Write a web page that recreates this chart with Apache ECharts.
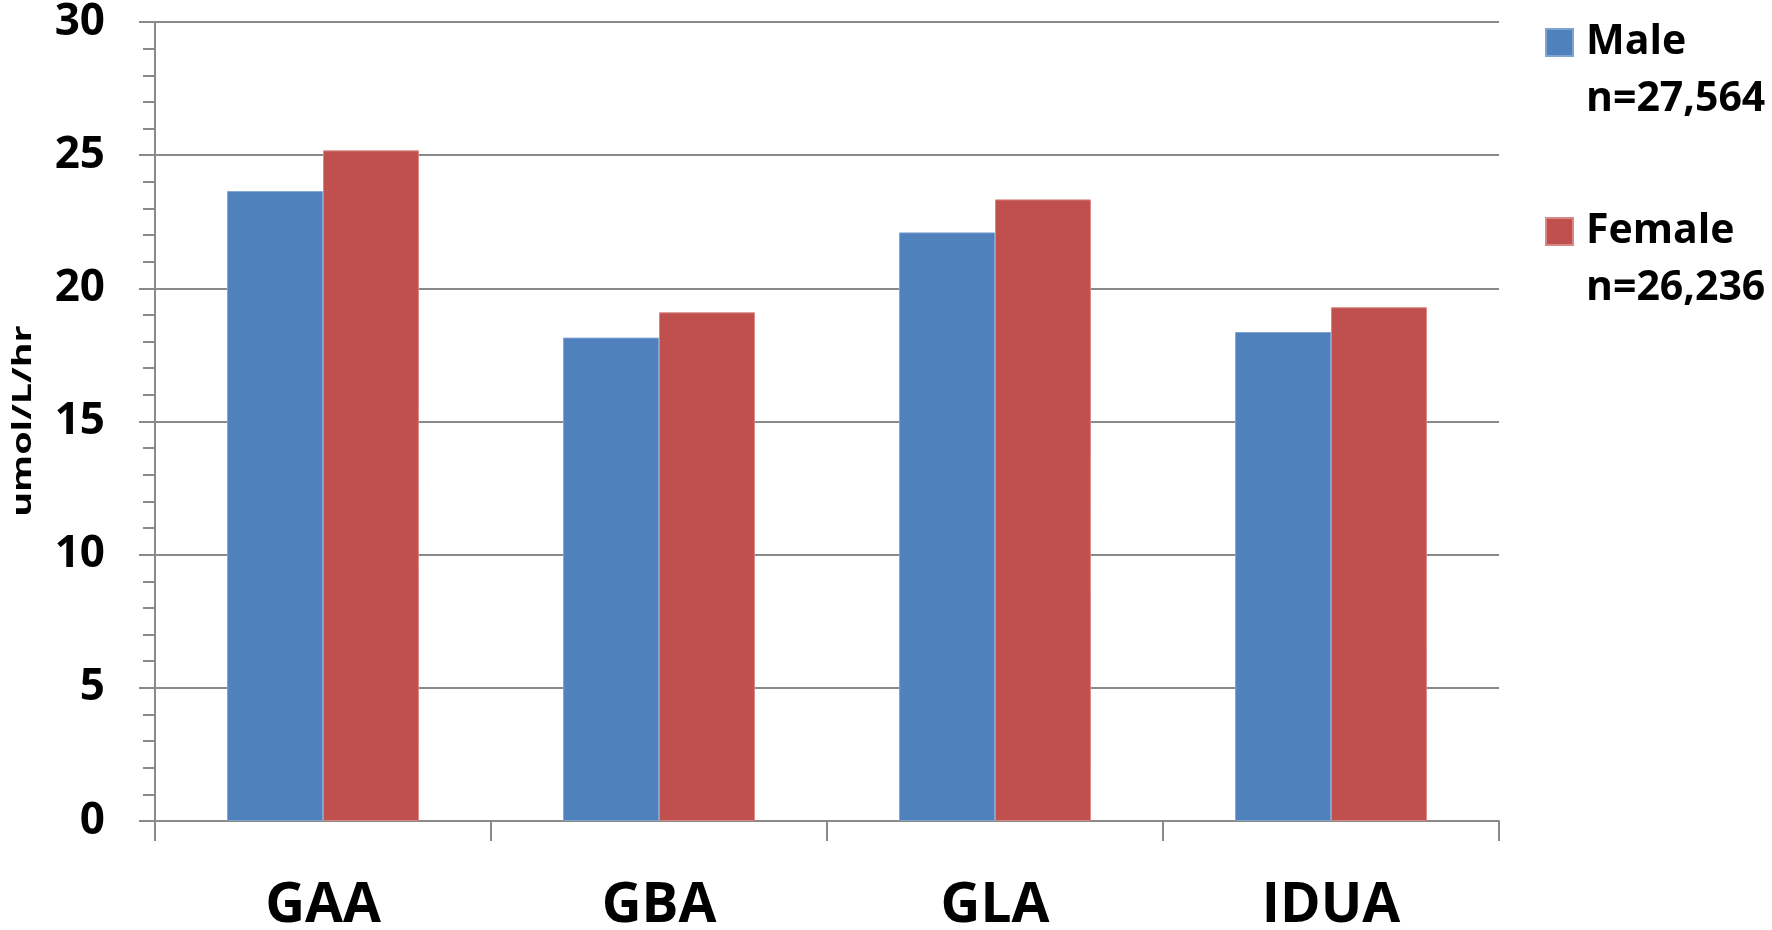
<!DOCTYPE html>
<html>
<head>
<meta charset="utf-8">
<title>Enzyme activity by sex</title>
<script src="https://cdn.jsdelivr.net/npm/echarts@6/dist/echarts.min.js"></script>
<style>
  html, body { margin: 0; padding: 0; background: #fff; overflow: hidden; }
  #chart { width: 1772px; height: 930px; }
</style>
</head>
<body>
<div id="chart"></div>
<script>
// Mean enzyme activity (umol/L/hr) per assay, split by sex
const categories = ['GAA', 'GBA', 'GLA', 'IDUA'];
const seriesNames = ['Male', 'Female'];
const sampleSizes = ['n=27,564', 'n=26,236'];
const maleValues = [23.65, 18.15, 22.10, 18.36];
const femaleValues = [25.18, 19.10, 23.34, 19.29];
const yTicks = [0, 5, 10, 15, 20, 25, 30];
const yAxisTitle = 'umol/L/hr';

const FONT = '"Open Sans", "Lato", "DejaVu Sans", sans-serif';
const GREY = '#8a8a8a';

const chart = echarts.init(document.getElementById('chart'), null, { renderer: 'canvas' });

const nByName = {};
seriesNames.forEach((s, i) => { nByName[s] = sampleSizes[i]; });

chart.setOption({
  animation: false,
  backgroundColor: '#ffffff',
  grid: {
    left: 155, right: 273, top: 22, bottom: 109,
    containLabel: false,
    outerBoundsMode: 'none'
  },
  legend: {
    orient: 'vertical',
    left: 1545,
    top: -35,
    padding: 0,
    itemWidth: 27,
    itemHeight: 27,
    itemGap: 34,
    icon: 'rect',
    data: seriesNames,
    formatter: name => `{e| }\n{a|${name}}\n{a|${nByName[name]}}`,
    textStyle: {
      padding: [0, 0, 0, 8],
      rich: {
        e: { fontSize: 41, lineHeight: 57, fontFamily: FONT, fontWeight: 'bold', color: '#000' },
        a: { fontSize: 41, lineHeight: 57, fontFamily: FONT, fontWeight: 'bold', color: '#000' }
      }
    }
  },
  xAxis: {
    type: 'category',
    data: categories,
    boundaryGap: true,
    axisLine: { show: true, lineStyle: { color: GREY, width: 2 } },
    axisTick: { show: true, length: 20, lineStyle: { color: GREY, width: 2 } },
    axisLabel: {
      margin: 58,
      fontSize: 55,
      fontWeight: 'bold',
      fontFamily: FONT,
      color: '#000'
    },
    splitLine: { show: false }
  },
  yAxis: {
    type: 'value',
    min: yTicks[0],
    max: yTicks[yTicks.length - 1],
    interval: 5,
    axisLine: { show: true, lineStyle: { color: GREY, width: 2 } },
    axisTick: { show: true, length: 16, lineStyle: { color: GREY, width: 2 } },
    minorTick: { show: true, splitNumber: 5, length: 12, lineStyle: { color: GREY, width: 2 } },
    axisLabel: {
      margin: 50,
      fontSize: 44,
      fontWeight: 'bold',
      fontFamily: FONT,
      color: '#000'
    },
    splitLine: { show: true, lineStyle: { color: GREY, width: 2 } }
  },
  graphic: [{
    type: 'text',
    x: 23,
    y: 421,
    rotation: Math.PI / 2,
    scaleX: 1.4,
    silent: true,
    style: {
      text: yAxisTitle,
      font: 'bold 27px ' + FONT,
      fill: '#000',
      textAlign: 'center',
      textVerticalAlign: 'middle'
    }
  }],
  series: [
    {
      name: seriesNames[0],
      type: 'bar',
      data: maleValues,
      barGap: '0%',
      barCategoryGap: '42.9%',
      itemStyle: { color: '#4F81BD', borderColor: '#7fa3d3', borderWidth: 1 }
    },
    {
      name: seriesNames[1],
      type: 'bar',
      data: femaleValues,
      barGap: '0%',
      barCategoryGap: '42.9%',
      itemStyle: { color: '#C0504D', borderColor: '#d98784', borderWidth: 1 }
    }
  ]
});
</script>
</body>
</html>
